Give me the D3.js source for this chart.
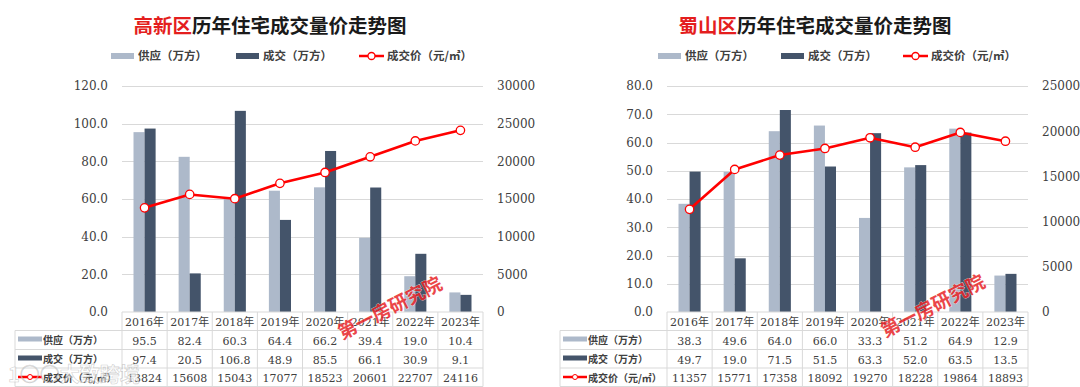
<!DOCTYPE html>
<meta charset="utf-8">
<style type="text/css">
body { margin: 0; background: #fff; }
svg { display: block; }
.cjk { font-family: "Noto Sans CJK SC", sans-serif; }
.num { font-family: "DejaVu Serif", serif; }
</style>
<body>
<script src="https://cdn.jsdelivr.net/npm/d3@7/dist/d3.min.js"></script>
<script type="text/javascript">

// ---- data ----
var years = ["2016年", "2017年", "2018年", "2019年", "2020年", "2021年", "2022年", "2023年"];
var seriesNames = ["供应（万方）", "成交（万方）", "成交价（元/㎡）"];

var gxSupply = [95.5, 82.4, 60.3, 64.4, 66.2, 39.4, 19.0, 10.4];
var gxDeal   = [97.4, 20.5, 106.8, 48.9, 85.5, 66.1, 30.9, 9.1];
var gxPrice  = [13824, 15608, 15043, 17077, 18523, 20601, 22707, 24116];
var gxVolTicks   = [0, 20, 40, 60, 80, 100, 120];
var gxPriceTicks = [0, 5000, 10000, 15000, 20000, 25000, 30000];

var ssSupply = [38.3, 49.6, 64.0, 66.0, 33.3, 51.2, 64.9, 12.9];
var ssDeal   = [49.7, 19.0, 71.5, 51.5, 63.3, 52.0, 63.5, 13.5];
var ssPrice  = [11357, 15771, 17358, 18092, 19270, 18228, 19864, 18893];
var ssVolTicks   = [0, 10, 20, 30, 40, 50, 60, 70, 80];
var ssPriceTicks = [0, 5000, 10000, 15000, 20000, 25000];

var cLight = "#adb9ca", cDark = "#44546a", cRed = "#ff0000",
    cGrid = "#d9d9d9", cText = "#404040";

var svg = d3.select("body").append("svg")
  .attr("width", 1080)
  .attr("height", 387);

function drawChart(o) {
  var g = svg.append("g");

  var x = d3.scaleBand().domain(years).range([o.x0, o.x1]);
  var yL = d3.scaleLinear().domain(d3.extent(o.volTicks)).range([312, 86]);
  var yR = d3.scaleLinear().domain(d3.extent(o.priceTicks)).range([312, 86]);
  var bw = x.bandwidth() * 0.245;

  // title
  var t = g.append("text").attr("class", "cjk")
    .attr("x", o.titleX).attr("y", 33)
    .attr("text-anchor", "middle")
    .style("font-size", "19.5px").style("font-weight", "bold");
  t.append("tspan").attr("fill", "#e41e1e").text(o.district);
  t.append("tspan").attr("fill", "#1a1a1a").text("历年住宅成交量价走势图");

  // legend
  var lg = g.append("g").attr("class", "cjk")
    .style("font-size", "11.5px").style("font-weight", "bold").attr("fill", cText);
  lg.append("rect").attr("x", o.leg[0]).attr("y", 53).attr("width", 23).attr("height", 6).attr("fill", cLight);
  lg.append("text").attr("x", o.leg[0] + 27).attr("y", 60).text(seriesNames[0]);
  lg.append("rect").attr("x", o.leg[1]).attr("y", 53).attr("width", 23).attr("height", 6).attr("fill", cDark);
  lg.append("text").attr("x", o.leg[1] + 27).attr("y", 60).text(seriesNames[1]);
  lg.append("line").attr("x1", o.leg[2]).attr("x2", o.leg[2] + 25).attr("y1", 56).attr("y2", 56)
    .attr("stroke", cRed).attr("stroke-width", 2.5);
  lg.append("circle").attr("cx", o.leg[2] + 12.5).attr("cy", 56).attr("r", 3.5)
    .attr("fill", "#fff").attr("stroke", cRed).attr("stroke-width", 1.3);
  lg.append("text").attr("x", o.leg[2] + 28).attr("y", 60).text(seriesNames[2]);

  // gridlines
  g.selectAll(".grid").data(o.volTicks.slice(1)).enter().append("line")
    .attr("x1", o.x0).attr("x2", o.x1)
    .attr("y1", function(d) { return Math.round(yL(d)) + 0.5; })
    .attr("y2", function(d) { return Math.round(yL(d)) + 0.5; })
    .attr("stroke", cGrid).attr("stroke-width", 1);

  // axes
  var axL = g.append("g").attr("transform", "translate(" + (o.x0 - 11) + ",0)")
    .call(d3.axisLeft(yL).tickValues(o.volTicks).tickSize(0).tickFormat(d3.format(".1f")));
  var axR = g.append("g").attr("transform", "translate(" + (o.x1 + 11) + ",0)")
    .call(d3.axisRight(yR).tickValues(o.priceTicks).tickSize(0).tickFormat(d3.format("d")));
  [axL, axR].forEach(function(a) {
    a.select(".domain").remove();
    a.selectAll("text").attr("class", "num").attr("fill", "#404040")
      .style("font-size", "12px").attr("dx", 0);
  });

  // bars
  g.selectAll(".sup").data(o.supply).enter().append("rect")
    .attr("x", function(d, i) { return x(years[i]) + x.bandwidth() / 2 - bw; })
    .attr("y", function(d) { return yL(d); })
    .attr("width", bw)
    .attr("height", function(d) { return yL(0) - yL(d); })
    .attr("fill", cLight);
  g.selectAll(".deal").data(o.deal).enter().append("rect")
    .attr("x", function(d, i) { return x(years[i]) + x.bandwidth() / 2; })
    .attr("y", function(d) { return yL(d); })
    .attr("width", bw)
    .attr("height", function(d) { return yL(0) - yL(d); })
    .attr("fill", cDark);

  // price line
  var line = d3.line()
    .x(function(d, i) { return x(years[i]) + x.bandwidth() / 2; })
    .y(function(d) { return yR(d); });
  g.append("path").datum(o.price)
    .attr("d", line).attr("fill", "none")
    .attr("stroke", cRed).attr("stroke-width", 2.6).attr("stroke-linejoin", "round");
  g.selectAll(".pt").data(o.price).enter().append("circle")
    .attr("cx", function(d, i) { return x(years[i]) + x.bandwidth() / 2; })
    .attr("cy", function(d) { return yR(d); })
    .attr("r", 4.2)
    .attr("fill", "#fff").attr("stroke", cRed).attr("stroke-width", 1.3);

  // data table
  var rowsY = [312, 330.5, 349.5, 368, 386.5];
  var tb = g.append("g");
  tb.append("rect").attr("x", o.x0).attr("y", rowsY[0]).attr("width", o.x1 - o.x0).attr("height", rowsY[1] - rowsY[0])
    .attr("fill", "#fff");
  tb.append("rect").attr("x", o.tableX).attr("y", rowsY[1]).attr("width", o.x1 - o.tableX).attr("height", rowsY[4] - rowsY[1])
    .attr("fill", "#fff");
  var hl = [[o.x0, rowsY[0]], [o.tableX, rowsY[1]], [o.tableX, rowsY[2]], [o.tableX, rowsY[3]], [o.tableX, rowsY[4]]];
  tb.selectAll(".hl").data(hl).enter().append("line")
    .attr("x1", function(d) { return d[0]; }).attr("x2", o.x1)
    .attr("y1", function(d) { return d[1]; }).attr("y2", function(d) { return d[1]; })
    .attr("stroke", cGrid);
  var vx = years.map(function(d) { return x(d); }).concat([o.x1]);
  tb.selectAll(".vl").data(vx).enter().append("line")
    .attr("x1", function(d) { return d; }).attr("x2", function(d) { return d; })
    .attr("y1", rowsY[0]).attr("y2", rowsY[4])
    .attr("stroke", cGrid);
  tb.append("line").attr("x1", o.tableX).attr("x2", o.tableX).attr("y1", rowsY[1]).attr("y2", rowsY[4])
    .attr("stroke", cGrid);

  tb.selectAll(".yr").data(years).enter().append("text")
    .attr("x", function(d) { return x(d) + x.bandwidth() / 2; })
    .attr("y", rowsY[0] + 14)
    .attr("text-anchor", "middle").attr("fill", cText)
    .style("font-family", "'DejaVu Serif', 'Noto Sans CJK SC', serif").style("font-size", "11px")
    .text(function(d) { return d; });

  var rows = [
    {vals: o.supply, fmt: d3.format(".1f")},
    {vals: o.deal, fmt: d3.format(".1f")},
    {vals: o.price, fmt: d3.format("d")}
  ];
  rows.forEach(function(r, ri) {
    var yy = rowsY[ri + 1];
    tb.selectAll(".v" + ri).data(r.vals).enter().append("text")
      .attr("class", "num")
      .attr("x", function(d, i) { return x(years[i]) + x.bandwidth() / 2; })
      .attr("y", yy + 14)
      .attr("text-anchor", "middle").attr("fill", cText)
      .style("font-size", "11px")
      .text(function(d) { return r.fmt(d); });
    tb.append("text").attr("class", "cjk")
      .attr("x", o.tableX + 28).attr("y", yy + 13.5)
      .attr("fill", cText).style("font-size", "10px").style("font-weight", "bold")
      .text(seriesNames[ri]);
  });
  // row keys
  tb.append("rect").attr("x", o.tableX + 3).attr("y", rowsY[1] + 6).attr("width", 24).attr("height", 5).attr("fill", cLight);
  tb.append("rect").attr("x", o.tableX + 3).attr("y", rowsY[2] + 6).attr("width", 24).attr("height", 5).attr("fill", cDark);
  tb.append("line").attr("x1", o.tableX + 3).attr("x2", o.tableX + 27)
    .attr("y1", rowsY[3] + 9).attr("y2", rowsY[3] + 9).attr("stroke", cRed).attr("stroke-width", 2.5);
  tb.append("circle").attr("cx", o.tableX + 15).attr("cy", rowsY[3] + 9).attr("r", 2.5)
    .attr("fill", "#fff").attr("stroke", cRed).attr("stroke-width", 1);

  // stamp watermark
  g.append("text").attr("class", "cjk")
    .attr("transform", "translate(" + o.stamp[0] + "," + o.stamp[1] + ") rotate(-27)")
    .attr("text-anchor", "middle")
    .attr("fill", "#e8262a").attr("opacity", 0.85)
    .attr("stroke", "#fff").attr("stroke-width", 0.6).attr("paint-order", "stroke")
    .style("font-size", "19px").style("font-weight", "bold")
    .text("第一房研究院");
}

drawChart({
  district: "高新区", titleX: 270,
  x0: 122, x1: 483, tableX: 15,
  leg: [111, 236, 359],
  supply: gxSupply, deal: gxDeal, price: gxPrice,
  volTicks: gxVolTicks, priceTicks: gxPriceTicks,
  stamp: [393, 314]
});

drawChart({
  district: "蜀山区", titleX: 815,
  x0: 667, x1: 1028, tableX: 560,
  leg: [658, 781, 903],
  supply: ssSupply, deal: ssDeal, price: ssPrice,
  volTicks: ssVolTicks, priceTicks: ssPriceTicks,
  stamp: [936, 312]
});

// corner watermark (translucent, lets the table show through)
svg.append("text").attr("class", "cjk")
  .attr("x", 8).attr("y", 382)
  .attr("fill", "#fff").attr("fill-opacity", 0.55)
  .attr("stroke", "#9a9a9a").attr("stroke-width", 0.7).attr("stroke-opacity", 0.45)
  .style("font-size", "20px").style("font-weight", "bold")
  .text("1○○大致跨境");

</script>
